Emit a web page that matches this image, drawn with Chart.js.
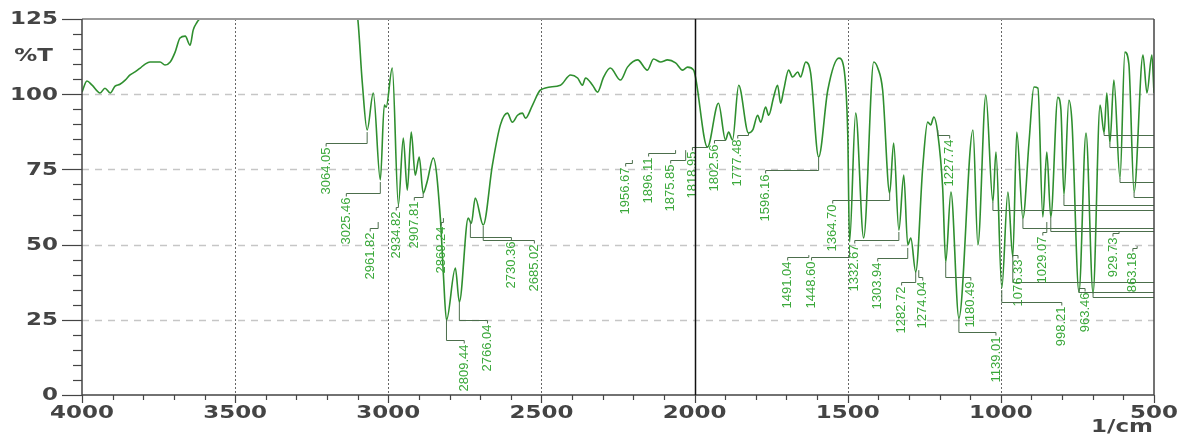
<!DOCTYPE html>
<html>
<head>
<meta charset="utf-8">
<script src="https://cdn.jsdelivr.net/npm/chart.js@4.4.1/dist/chart.umd.min.js"></script>
<style>
  html, body { margin: 0; padding: 0; background: #fff; }
  #irChart { display: block; }
</style>
</head>
<body>
<canvas id="irChart" width="1187" height="446"></canvas>
<script>
// IR spectrum, %T against wavenumber (1/cm)

// trace, left to right
const wavenumbers = [
  4000, 3984, 3967, 3941, 3925, 3908, 3892, 3876, 3859, 3843, 3827, 3810, 3794, 3778, 3745, 3729,
  3712, 3696, 3680, 3663, 3647, 3637, 3624, 3614, 3590, 3450, 3250, 3130, 3101, 3085, 3069, 3049,
  3026, 3013, 3007, 2987, 2967, 2951, 2938, 2925, 2912, 2899, 2886, 2873, 2853, 2830, 2820, 2810,
  2781, 2768, 2739, 2729, 2716, 2690, 2660, 2634, 2611, 2595, 2578, 2562, 2552, 2529, 2503, 2438,
  2405, 2382, 2366, 2356, 2333, 2317, 2297, 2275, 2242, 2219, 2186, 2154, 2134, 2111, 2088, 2062,
  2039, 2023, 2003, 1997, 1958, 1922, 1899, 1889, 1876, 1856, 1824, 1810, 1794, 1784, 1768, 1758,
  1742, 1729, 1719, 1709, 1693, 1680, 1663, 1654, 1637, 1621, 1595, 1565, 1529, 1513, 1500, 1494,
  1474, 1448, 1415, 1402, 1386, 1363, 1350, 1333, 1317, 1304, 1294, 1278, 1255, 1239, 1229, 1219,
  1206, 1190, 1180, 1163, 1137, 1091, 1075, 1049, 1026, 1016, 997, 977, 961, 948, 928, 908,
  892, 879, 863, 850, 837, 814, 804, 794, 778, 768, 745, 722, 699, 676, 663, 654,
  644, 631, 611, 595, 582, 565, 536, 523, 507, 500
];
const transmittance = [
  100.7, 104.4, 103, 100.4, 102, 100.4, 102.7, 103.3, 104.7, 106.4, 107.4, 108.7, 110, 110.7, 110.7, 109.7,
  110.7, 114, 118.7, 119.3, 116.3, 121.3, 124, 125.5, 131, 138, 138, 133, 126.3, 104, 88.1, 100.4,
  71.5, 96.4, 95.7, 108.7, 63.2, 85.4, 68.1, 87.4, 73.1, 79.1, 67.1, 71, 78.8, 58.8, 39.9, 24.9,
  42.2, 30.9, 58.8, 57, 65.5, 56.5, 76.5, 89.8, 93.7, 90.7, 93, 93.7, 92, 96.4, 101.4, 103,
  106.4, 105.4, 103, 105.4, 103, 100.7, 105.7, 108.7, 104.7, 109, 111.4, 108, 111.7, 110.7, 111.4, 110.4,
  108, 109, 108, 105.7, 82.4, 97, 84.8, 87.4, 84.8, 103, 87.1, 88.1, 93, 90.7, 95.7, 93,
  99, 103, 97, 101.4, 108, 105.7, 107.4, 105.7, 110.7, 107, 79.1, 101.4, 112, 109, 87, 50.9,
  93.7, 52.2, 110.7, 108.7, 101.4, 67.1, 83.8, 54.8, 73.1, 49.9, 52.2, 40.9, 75.8, 90.7, 89.8, 92.4,
  87, 68.8, 44.2, 67.5, 25.6, 88.1, 49.9, 99.7, 64.2, 80.8, 35.6, 67.5, 45.9, 87.4, 58.8, 84.1,
  102.4, 102, 59.2, 80.8, 59.2, 99, 95, 66.5, 98, 91, 34.2, 87.1, 33.9, 96.4, 87.1, 100.4,
  83.8, 104.7, 72.1, 114, 110, 67.5, 113, 100.4, 113, 100.4
];

// peak labels: text, where the label sits, and where its leader ends
const peakText = [
  "3064.05", "3025.46", "2961.82", "2934.82", "2907.81", "2869.24", "2809.44", "2766.04", "2730.36", "2685.02",
  "1956.67", "1896.11", "1875.85", "1818.95", "1802.56", "1777.48", "1596.16", "1491.04", "1448.60", "1364.70",
  "1332.67", "1303.94", "1282.72", "1274.04", "1227.74", "1180.49", "1139.01", "1076.33", "1029.07", "998.21",
  "963.46", "929.73", "863.18"
];
const labelWn = [
  3203, 3137, 3059, 2974, 2915, 2827, 2752, 2676, 2598, 2523,
  2225, 2150, 2078, 2007, 1935, 1859, 1768, 1696, 1618, 1549,
  1477, 1402, 1324, 1255, 1167, 1098, 1016, 944, 863, 801,
  725, 634, 569
];
const labelTopT = [
  83.8, 67.1, 55.5, 62.5, 65.8, 57.5, 18.3, 24.9, 52.5, 51.5,
  77.1, 80.4, 78.1, 82.4, 84.8, 86.4, 74.8, 45.9, 45.9, 64.8,
  51.5, 45.5, 37.6, 39.2, 86.4, 39.2, 20.9, 46.5, 54.2, 30.9,
  35.6, 53.8, 48.9
];
const peakWn = [
  3069, 3026, 3033, 2967, 2886, 2820, 2810, 2768, 2732, 2690,
  2203, 2062, 2029, 1958, 1899, 1824, 1595, 1627, 1494, 1363,
  1333, 1304, 1278, 1268, 1206, 1180, 1137, 961, 850, 997,
  745, 614, 555
];
const peakT = [
  87.4, 70.8, 57.5, 63.2, 67.1, 58.8, 24.9, 30.9, 57.5, 56.2,
  78.1, 81.4, 81.4, 82.4, 84.8, 87.1, 79.1, 46.5, 49.9, 67.1,
  54.2, 48.9, 40.9, 41.5, 88.1, 44.2, 25.6, 45.9, 57.5, 34.9,
  34.2, 54.2, 49.5
];

// leaders whose labels fall off the right edge
const edgePeakWn = [663, 644, 611, 565, 794, 1026, 928, 837, 961, 745, 699];
const edgePeakT = [87.1, 83.8, 72.1, 67.5, 66.5, 64.2, 58.8, 59.2, 45.9, 34.2, 33.9];
const edgeLevelT = [86.4, 82.4, 70.8, 65.8, 63.2, 61.5, 55.5, 54.5, 37.6, 34.2, 32.6];

// axes
const xTickValues = [4000, 3500, 3000, 2500, 2000, 1500, 1000, 500];
const yTickValues = [0, 25, 50, 75, 100, 125];
const yGridValues = [25, 50, 75, 100];
const xGridValues = [3500, 3000, 2500, 1500, 1000];
const splitWn = 2000;

const axisFont = 'bold 17px "DejaVu Sans"';
const axisColor = "#444";
const stretch = 1.35; // the axis lettering is wide in the original

function wideText(ctx, txt, px, py, align) {
  ctx.save();
  ctx.translate(px, py);
  ctx.scale(stretch, 1);
  ctx.textAlign = align;
  ctx.fillText(txt, 0, 0);
  ctx.restore();
}

const irDecor = {
  id: "irDecor",
  beforeDatasetsDraw(chart) {
    const { ctx, chartArea: a, scales: { x, y } } = chart;
    ctx.save();
    // horizontal dashed grid
    ctx.strokeStyle = "#c6c6c6";
    ctx.lineWidth = 1.5;
    ctx.setLineDash([7, 6]);
    yGridValues.forEach(v => {
      const py = Math.round(y.getPixelForValue(v)) + 0.5;
      ctx.beginPath(); ctx.moveTo(a.left, py); ctx.lineTo(a.right, py); ctx.stroke();
    });
    // vertical dotted grid
    ctx.strokeStyle = "#666";
    ctx.lineWidth = 1;
    ctx.setLineDash([2, 2]);
    xGridValues.forEach(v => {
      const px = Math.round(x.getPixelForValue(v)) + 0.5;
      ctx.beginPath(); ctx.moveTo(px, a.top); ctx.lineTo(px, a.bottom); ctx.stroke();
    });
    ctx.restore();
  },
  afterDatasetsDraw(chart) {
    const { ctx, chartArea: a, scales: { x, y } } = chart;
    ctx.save();

    // leaders to the right edge
    ctx.strokeStyle = "#4c6e4c";
    ctx.lineWidth = 1;
    edgePeakWn.forEach((wn, i) => {
      const px = x.getPixelForValue(wn);
      const py = y.getPixelForValue(edgePeakT[i]);
      const ly = Math.round(y.getPixelForValue(edgeLevelT[i])) + 0.5;
      ctx.beginPath(); ctx.moveTo(px, py); ctx.lineTo(px, ly); ctx.lineTo(a.right, ly); ctx.stroke();
    });

    // peak labels with leaders
    ctx.font = '13px "Liberation Sans"';
    peakText.forEach((txt, i) => {
      const lx = x.getPixelForValue(labelWn[i]);
      const ly = Math.round(y.getPixelForValue(labelTopT[i])) + 0.5;
      const px = x.getPixelForValue(peakWn[i]);
      const py = y.getPixelForValue(peakT[i]);
      ctx.strokeStyle = "#4c6e4c";
      ctx.beginPath(); ctx.moveTo(lx, ly + 3); ctx.lineTo(lx, ly); ctx.lineTo(px, ly); ctx.lineTo(px, py); ctx.stroke();
      ctx.save();
      ctx.translate(lx, ly + 4);
      ctx.rotate(-Math.PI / 2);
      ctx.fillStyle = "#3aa83a";
      ctx.textAlign = "right";
      ctx.textBaseline = "middle";
      ctx.fillText(txt, 0, 0);
      ctx.restore();
    });

    // frame
    ctx.lineWidth = 2;
    ctx.strokeStyle = "#9a9a9a";
    ctx.beginPath(); ctx.moveTo(a.left, a.top); ctx.lineTo(a.right, a.top); ctx.stroke();
    ctx.lineWidth = 1.5;
    ctx.strokeStyle = axisColor;
    ctx.beginPath(); ctx.moveTo(a.right, a.top); ctx.lineTo(a.right, a.bottom); ctx.stroke();
    ctx.beginPath(); ctx.moveTo(a.left, a.top); ctx.lineTo(a.left, a.bottom); ctx.lineTo(a.right, a.bottom); ctx.stroke();
    // solid line at the 2000 split
    const sx = Math.round(x.getPixelForValue(splitWn)) + 0.5;
    ctx.strokeStyle = "#111";
    ctx.beginPath(); ctx.moveTo(sx, a.top); ctx.lineTo(sx, a.bottom); ctx.stroke();

    // tick marks
    ctx.strokeStyle = axisColor;
    ctx.lineWidth = 1.2;
    for (let v = 0; v <= 125; v += 5) {
      const py = Math.round(y.getPixelForValue(v)) + 0.5;
      const len = v % 25 === 0 ? 20 : 9;
      ctx.beginPath(); ctx.moveTo(a.left - len, py); ctx.lineTo(a.left, py); ctx.stroke();
    }
    for (let v = 500; v <= 4000; v += 100) {
      const px = Math.round(x.getPixelForValue(v)) + 0.5;
      const len = v % 500 === 0 ? 8 : 5;
      ctx.beginPath(); ctx.moveTo(px, a.bottom); ctx.lineTo(px, a.bottom + len); ctx.stroke();
    }

    // tick labels and axis titles
    ctx.fillStyle = axisColor;
    ctx.font = axisFont;
    ctx.textBaseline = "middle";
    yTickValues.forEach(v => wideText(ctx, String(v), a.left - 24, y.getPixelForValue(v) + 1, "right"));
    xTickValues.forEach(v => wideText(ctx, String(v), x.getPixelForValue(v), a.bottom + 19, "center"));
    wideText(ctx, "%T", a.left - 29, y.getPixelForValue(112.5), "right");
    wideText(ctx, "1/cm", a.right - 32, a.bottom + 33, "center");
    ctx.restore();
  }
};

const ctx = document.getElementById("irChart").getContext("2d");
new Chart(ctx, {
  type: "line",
  data: {
    datasets: [{
      data: wavenumbers.map((wn, i) => ({ x: wn, y: transmittance[i] })),
      borderColor: "#2f8f2f",
      borderWidth: 1.6,
      pointRadius: 0,
      cubicInterpolationMode: "monotone",
      fill: false
    }]
  },
  options: {
    responsive: false,
    animation: false,
    devicePixelRatio: 1,
    layout: { padding: { top: 19, right: 33, left: 0, bottom: 0 } },
    plugins: { legend: { display: false }, tooltip: { enabled: false } },
    scales: {
      x: {
        type: "linear",
        reverse: true,
        min: 500,
        max: 4000,
        grid: { display: false },
        border: { display: false },
        ticks: { display: false, stepSize: 500 },
        afterFit: s => { s.height = 51; s.paddingLeft = 0; s.paddingRight = 0; }
      },
      y: {
        min: 0,
        max: 125,
        grid: { display: false },
        border: { display: false },
        ticks: { display: false, stepSize: 25 },
        afterFit: s => { s.width = 82; s.paddingTop = 0; s.paddingBottom = 0; }
      }
    }
  },
  plugins: [irDecor]
});
</script>
</body>
</html>
